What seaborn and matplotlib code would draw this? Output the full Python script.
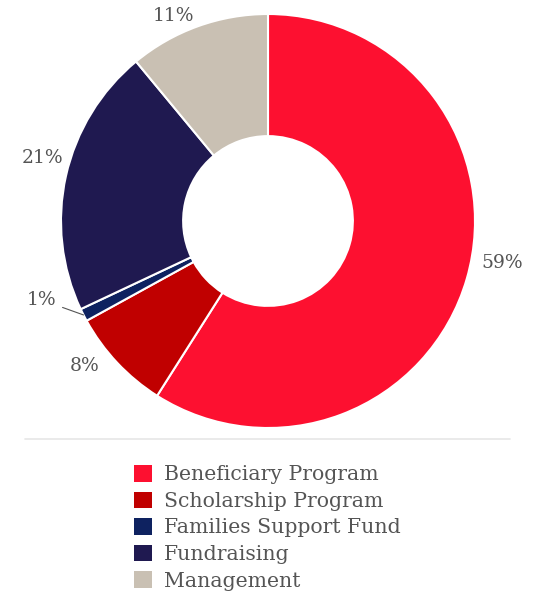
import numpy as np
import matplotlib.pyplot as plt
import seaborn as sns
from matplotlib.patches import Patch

categories = ['Beneficiary Program', 'Scholarship Program', 'Families Support Fund',
              'Fundraising', 'Management']
shares = [59, 8, 1, 21, 11]
pct_labels = ['59%', '8%', '1%', '21%', '11%']
colors = ['#FD1030', '#C00000', '#0E2260', '#1F1950', '#C9C0B3']

sns.set_theme(style='white')
plt.rcParams['font.family'] = ['DejaVu Serif', 'DejaVu Sans']

fig = plt.figure(figsize=(5.41, 5.93), dpi=100)
W, H = 541, 593
cx, cy, r = 268, 221, 207
ax = fig.add_axes([(cx - r) / W, (H - cy - r) / H, 2 * r / W, 2 * r / H])

wedges, _ = ax.pie(shares, colors=colors, startangle=90, counterclock=False,
                   radius=1.0, wedgeprops=dict(width=0.59, edgecolor='white', linewidth=1.5))
ax.set_xlim(-1, 1)
ax.set_ylim(-1, 1)
ax.set_aspect('equal')
ax.axis('off')

# label placement: nudge (deg) and distance factor per slice
nudge = [-6, 5, 6.5, 3, -5]
dist = [1.15, 1.13, 1.09, 1.13, 1.09]
for w, lab, dn, d in zip(wedges, pct_labels, nudge, dist):
    mid = (w.theta1 + w.theta2) / 2
    ang = np.deg2rad(mid - dn)
    x, y = d * np.cos(ang), d * np.sin(ang)
    if lab == '1%':
        ax.annotate(lab, xy=(np.cos(np.deg2rad(mid)), np.sin(np.deg2rad(mid))),
                    xytext=(x, y), ha='right', va='center', fontsize=13.5, color='#555555',
                    arrowprops=dict(arrowstyle='-', color='#555555', lw=0.8,
                                    shrinkA=2, shrinkB=0))
    else:
        ax.text(x, y, lab, ha='center', va='center', fontsize=13.5, color='#555555')

# separator line
fig.add_artist(plt.Line2D([25 / W, 510 / W], [1 - 439 / H, 1 - 439 / H],
                          color='#E6E6E6', lw=1.2))

handles = [Patch(facecolor=c, edgecolor='none') for c in colors]
fig.legend(handles, categories, loc='upper left', bbox_to_anchor=(134 / W, 1 - 465 / H),
           frameon=False, fontsize=14.7, labelcolor='#555555',
           handlelength=0.88, handleheight=0.88, handletextpad=0.6,
           labelspacing=0.35, borderaxespad=0, borderpad=0)

fig.savefig('out.png', dpi=100)
